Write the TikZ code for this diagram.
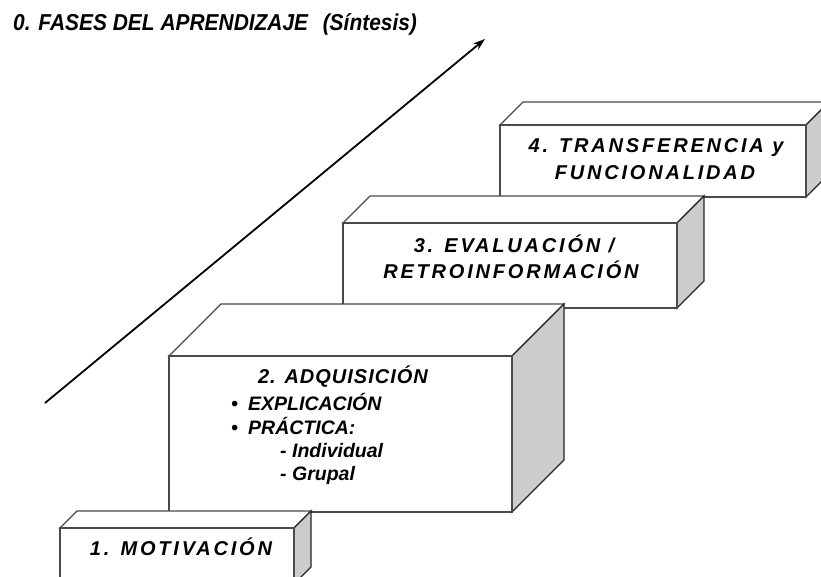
\documentclass[tikz,border=0pt]{standalone}
\usepackage{fontspec}
\setmainfont{Liberation Sans}
\newfontfamily\spwide[LetterSpace=14]{Liberation Sans}
\newfontfamily\spmid[LetterSpace=5]{Liberation Sans}
\usetikzlibrary{arrows.meta}
\definecolor{sidegray}{HTML}{CCCCCC}
\definecolor{edgegray}{HTML}{4A4A4A}
\tikzset{
  face/.style={fill=white,draw=edgegray,line width=1.3pt,line join=miter},
  sideface/.style={fill=sidegray,draw=black!85,line width=1.3pt,line join=miter},
  boxtext/.style={anchor=base,inner sep=0pt,font=\fontsize{20}{24}\selectfont\bfseries\itshape},
  listtext/.style={anchor=base west,inner sep=0pt,font=\fontsize{19.5}{23}\selectfont\bfseries\itshape},
  arrowline/.style={line width=1.8pt,-{Stealth[length=12pt,width=8pt]}}
}
% #1,#2 front top-left; #3,#4 front bottom-right; #5 depth
\newcommand\cubo[5]{%
  \filldraw[face] (#1,#2) -- (#1+#5,#2-#5) -- (#3+#5,#2-#5) -- (#3,#2) -- cycle;
  \filldraw[sideface] (#3,#2) -- (#3+#5,#2-#5) -- (#3+#5,#4-#5) -- (#3,#4) -- cycle;
  \filldraw[face] (#1,#2) rectangle (#3,#4);
}
\begin{document}
\begin{tikzpicture}[x=1pt,y=-1pt]
\useasboundingbox (0,0) rectangle (821,576);
\clip (0,0) rectangle (821,576);
% title
\node[anchor=base west,inner sep=0pt,font=\fontsize{23}{27}\selectfont\bfseries\itshape] (title) at (13,30)
  {\scalebox{0.91}[1]{0. FASES DEL APRENDIZAJE\hspace{16pt}(Síntesis)}};
% arrow
\coordinate (a0) at (45,403);
\coordinate (a1) at (485,39);
\draw[arrowline] (a0) -- (a1);
% boxes, back to front
\cubo{500}{125}{806}{197}{23}
\cubo{343}{223}{677}{308}{27}
\cubo{169}{356}{512}{512}{52}
\cubo{60}{528}{294}{584}{17}
% texts
\node[boxtext] (t4a) at (656,152) {\spwide 4. TRANSFERENCIA y};
\node[boxtext] (t4b) at (655,179) {\spwide FUNCIONALIDAD};
\node[boxtext] (t3a) at (514,252) {\spwide 3. EVALUACIÓN /};
\node[boxtext] (t3b) at (511,278) {\spwide RETROINFORMACIÓN};
\node[boxtext] (t2) at (343,383) {\spmid 2. ADQUISICIÓN};
\node[listtext] (l1) at (231,410) {\makebox[17pt][l]{\textbullet}EXPLICACIÓN};
\node[listtext] (l2) at (231,434) {\makebox[17pt][l]{\textbullet}PRÁCTICA:};
\node[listtext] (l3) at (280,457) {- Individual};
\node[listtext] (l4) at (280,480) {- Grupal};
\node[boxtext] (t1) at (181,555) {\spwide 1. MOTIVACIÓN};
\end{tikzpicture}
\end{document}
